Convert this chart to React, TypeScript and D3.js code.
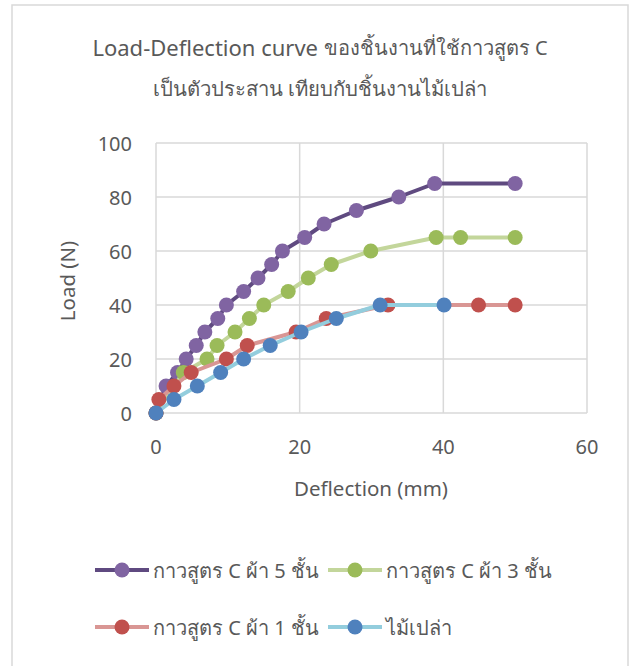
import React from "react";
import * as d3 from "d3";

const seriesNames = [
  "กาวสูตร C ผ้า 5 ชั้น",
  "กาวสูตร C ผ้า 3 ชั้น",
  "กาวสูตร C ผ้า 1 ชั้น",
  "ไม้เปล่า",
];

const purpleX = [0, 1.4, 3.0, 4.2, 5.6, 6.8, 8.6, 9.8, 12.2, 14.2, 16.1, 17.6, 20.7, 23.4, 27.9, 33.8, 38.8, 50];
const purpleY = [0, 10, 15, 20, 25, 30, 35, 40, 45, 50, 55, 60, 65, 70, 75, 80, 85, 85];

const greenX = [0, 3.8, 7.1, 8.5, 11, 13, 15, 18.4, 21.2, 24.4, 29.9, 39, 42.4, 50];
const greenY = [0, 15, 20, 25, 30, 35, 40, 45, 50, 55, 60, 65, 65, 65];

const redX = [0, 0.4, 2.5, 4.9, 9.8, 12.7, 19.5, 23.7, 32.3, 44.9, 50];
const redY = [0, 5, 10, 15, 20, 25, 30, 35, 40, 40, 40];

const blueX = [0, 2.5, 5.75, 9, 12.2, 15.9, 20.2, 25.1, 31.2, 40.1];
const blueY = [0, 5, 10, 15, 20, 25, 30, 35, 40, 40];

const xTicks = [0, 20, 40, 60];
const yTicks = [0, 20, 40, 60, 80, 100];

const titleLine1Latin = "Load-Deflection curve ";
const titleLine1Thai = "ของชิ้นงานที่ใช้กาวสูตร C";
const titleLine2 = "เป็นตัวประสาน เทียบกับชิ้นงานไม้เปล่า";

const lineColors = ["#5f4a80", "#c3d69b", "#d99694", "#93cddd"];
const markerColors = ["#8064a2", "#9bbb59", "#c0504d", "#4f81bd"];

const FONT = "'Noto Sans', 'Open Sans', sans-serif";
const TEXT = "#595959";

export default function App() {
  const W = 629;
  const H = 666;
  const left = 156, right = 587, top = 143, bottom = 413;
  const x = d3.scaleLinear().domain([0, 60]).range([left, right]);
  const y = d3.scaleLinear().domain([0, 100]).range([bottom, top]);

  const series = [
    { xs: purpleX, ys: purpleY },
    { xs: greenX, ys: greenY },
    { xs: redX, ys: redY },
    { xs: blueX, ys: blueY },
  ];

  const line = d3
    .line<[number, number]>()
    .x((d) => x(d[0]))
    .y((d) => y(d[1]));

  const legendPos = [
    { lx: 95, ly: 570 },
    { lx: 328, ly: 570 },
    { lx: 95, ly: 627 },
    { lx: 328, ly: 627 },
  ];

  return (
    <svg
      width={W}
      height={H}
      style={{ position: "absolute", left: 0, top: 0, background: "#fff" }}
      fontFamily={FONT}
    >
      <rect x={12} y={5} width={616} height={700} fill="#fff" stroke="#d9d9d9" strokeWidth={1.5} />
      <text x={320} y={47} textAnchor="middle" dominantBaseline="central" fill={TEXT}>
        <tspan fontSize={22}>{titleLine1Latin}</tspan>
        <tspan fontSize={20}>{titleLine1Thai}</tspan>
      </text>
      <text x={320} y={88} textAnchor="middle" dominantBaseline="central" fontSize={20.3} fill={TEXT}>
        {titleLine2}
      </text>
      {yTicks.map((t) => (
        <line key={"gy" + t} x1={left} x2={right} y1={y(t)} y2={y(t)} stroke="#d9d9d9" strokeWidth={1.5} />
      ))}
      {xTicks.map((t) => (
        <line key={"gx" + t} x1={x(t)} x2={x(t)} y1={top} y2={bottom} stroke="#d9d9d9" strokeWidth={1.5} />
      ))}
      {yTicks.map((t) => (
        <text
          key={"ty" + t}
          x={132}
          y={y(t)}
          textAnchor="end"
          dominantBaseline="central"
          fontSize={20}
          fill={TEXT}
        >
          {t}
        </text>
      ))}
      {xTicks.map((t) => (
        <text
          key={"tx" + t}
          x={x(t)}
          y={446}
          textAnchor="middle"
          dominantBaseline="central"
          fontSize={20}
          fill={TEXT}
        >
          {t}
        </text>
      ))}
      <text x={371} y={488} textAnchor="middle" dominantBaseline="central" fontSize={20.5} fill={TEXT}>
        Deflection (mm)
      </text>
      <text
        transform={`translate(67,281) rotate(-90)`}
        textAnchor="middle"
        dominantBaseline="central"
        fontSize={20.5}
        fill={TEXT}
      >
        Load (N)
      </text>
      {series.map((s, i) => {
        const pts = s.xs.map((v, j) => [v, s.ys[j]] as [number, number]);
        return (
          <g key={"s" + i}>
            <path d={line(pts) || ""} fill="none" stroke={lineColors[i]} strokeWidth={4} strokeLinejoin="round" />
            {pts.map((p, j) => (
              <circle key={j} cx={x(p[0])} cy={y(p[1])} r={7.5} fill={markerColors[i]} />
            ))}
          </g>
        );
      })}
      {seriesNames.map((n, i) => {
        const p = legendPos[i];
        return (
          <g key={"l" + i}>
            <line x1={p.lx} x2={p.lx + 54} y1={p.ly} y2={p.ly} stroke={lineColors[i]} strokeWidth={4} />
            <circle cx={p.lx + 27} cy={p.ly} r={7.5} fill={markerColors[i]} />
            <text x={p.lx + 58} y={p.ly} dominantBaseline="central" fontSize={20} fill={TEXT}>
              {n}
            </text>
          </g>
        );
      })}
    </svg>
  );
}
